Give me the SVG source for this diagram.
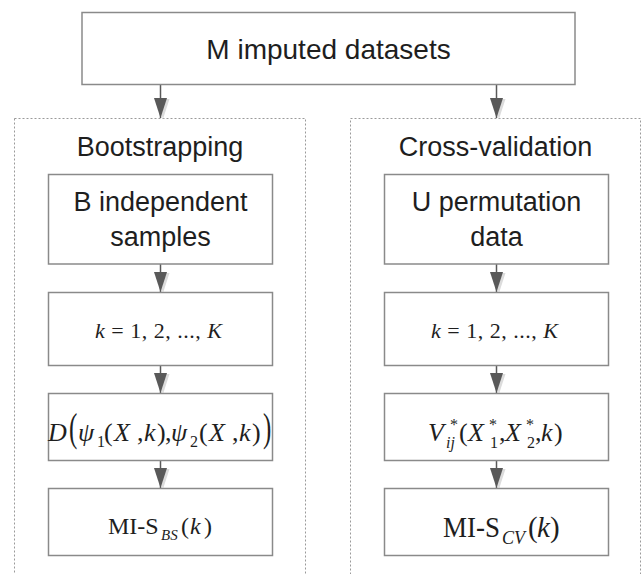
<svg xmlns="http://www.w3.org/2000/svg" width="642" height="574" viewBox="0 0 642 574">
<style>
.box{fill:#fff;stroke:#8a8a8a;stroke-width:1.5}
.grp{fill:none;stroke:#9a9a9a;stroke-width:1;stroke-dasharray:2,2}
.sans{font-family:"Liberation Sans",Arial,sans-serif;fill:#1e1e1e}
.serif{font-family:"Liberation Serif","Times New Roman",serif;fill:#1e1e1e}
.it{font-style:italic}
.sub{font-size:16px}
.conn{stroke:#595959;stroke-width:1.5;fill:none;marker-end:url(#ah)}
</style>
<defs>
<marker id="ah" markerUnits="userSpaceOnUse" markerWidth="22" markerHeight="16" refX="20" refY="6.5" orient="auto" overflow="visible">
<path d="M1,-2.5 L21,4 L1,10.5 z" fill="#dcdcdc"/>
<path d="M0,0 L20,6.5 L0,13 z" fill="#595959"/>
</marker>
</defs>
<rect width="642" height="574" fill="#fff"/>

<g id="grp-bootstrap">
<rect class="grp" x="14.5" y="118.5" width="291" height="470"/>
<text class="sans" x="160" y="156" font-size="27" text-anchor="middle">Bootstrapping</text>
</g>
<g id="grp-crossval">
<rect class="grp" x="350.5" y="118.5" width="290" height="470"/>
<text class="sans" x="495.5" y="156" font-size="27" text-anchor="middle">Cross-validation</text>
</g>

<g id="connectors">
<line class="conn" x1="160.5" y1="84" x2="160.5" y2="118"/>
<line class="conn" x1="496.5" y1="84" x2="496.5" y2="118"/>
<line class="conn" x1="160.5" y1="264" x2="160.5" y2="292"/>
<line class="conn" x1="160.5" y1="365" x2="160.5" y2="393"/>
<line class="conn" x1="160.5" y1="460" x2="160.5" y2="488"/>
<line class="conn" x1="496.5" y1="264" x2="496.5" y2="292"/>
<line class="conn" x1="496.5" y1="365" x2="496.5" y2="393"/>
<line class="conn" x1="496.5" y1="460" x2="496.5" y2="488"/>
</g>

<g id="n-top">
<rect class="box" x="82" y="12.5" width="493" height="72"/>
<text class="sans" x="328.5" y="59" font-size="28" text-anchor="middle">M imputed datasets</text>
</g>

<g id="n-b-samples">
<rect class="box" x="48.5" y="174.5" width="224" height="89.5"/>
<text class="sans" x="160.5" y="211" font-size="27" text-anchor="middle">B independent</text>
<text class="sans" x="160.5" y="246" font-size="27" text-anchor="middle">samples</text>
</g>
<g id="n-b-k">
<rect class="box" x="48.5" y="292.5" width="224" height="73"/>
<text class="serif" x="95" y="338" font-size="22" textLength="127" lengthAdjust="spacing"><tspan class="it">k</tspan> = 1, 2, ..., <tspan class="it">K</tspan></text>
</g>
<g id="n-b-d">
<rect class="box" x="48.5" y="393.5" width="224" height="67"/>
<text class="serif" font-size="26" y="441"><tspan class="it" x="48">D</tspan><tspan class="it" x="78">ψ</tspan><tspan class="sub" x="97" y="447">1</tspan><tspan x="104" y="441">(</tspan><tspan class="it" x="114">X</tspan><tspan x="137">,</tspan><tspan class="it" x="144">k</tspan><tspan x="157">)</tspan><tspan x="165">,</tspan><tspan class="it" x="171">ψ</tspan><tspan class="sub" x="190" y="447">2</tspan><tspan x="199" y="441">(</tspan><tspan class="it" x="209">X</tspan><tspan x="232">,</tspan><tspan class="it" x="239">k</tspan><tspan x="252">)</tspan></text>
<text class="serif" font-size="25" transform="translate(69,441) scale(1,1.6)">(</text>
<text class="serif" font-size="25" transform="translate(263,441) scale(1,1.6)">)</text>
</g>
<g id="n-b-mi">
<rect class="box" x="48.5" y="488.5" width="224" height="67"/>
<text class="serif" font-size="24" y="534"><tspan x="108">MI-S</tspan><tspan class="it" x="161" y="540" font-size="15">BS</tspan><tspan x="181" y="534">(</tspan><tspan class="it" x="190">k</tspan><tspan x="204">)</tspan></text>
</g>

<g id="n-u-data">
<rect class="box" x="384.5" y="174.5" width="224" height="89.5"/>
<text class="sans" x="496.5" y="211" font-size="27" text-anchor="middle">U permutation</text>
<text class="sans" x="496.5" y="246" font-size="27" text-anchor="middle">data</text>
</g>
<g id="n-u-k">
<rect class="box" x="384.5" y="292.5" width="224" height="73"/>
<text class="serif" x="431" y="338" font-size="22" textLength="127" lengthAdjust="spacing"><tspan class="it">k</tspan> = 1, 2, ..., <tspan class="it">K</tspan></text>
</g>
<g id="n-u-v">
<rect class="box" x="384.5" y="393.5" width="224" height="67"/>
<text class="serif" font-size="26" y="441"><tspan class="it" x="428">V</tspan><tspan class="sub" x="450" y="430">*</tspan><tspan class="sub it" x="446" y="448">ij</tspan><tspan x="459" y="441">(</tspan><tspan class="it" x="468">X</tspan><tspan class="sub" x="489" y="430">*</tspan><tspan class="sub" x="490" y="448">1</tspan><tspan x="499" y="441">,</tspan><tspan class="it" x="505">X</tspan><tspan class="sub" x="526" y="430">*</tspan><tspan class="sub" x="527" y="448">2</tspan><tspan x="535" y="441">,</tspan><tspan class="it" x="541">k</tspan><tspan x="554">)</tspan></text>
</g>
<g id="n-u-mi">
<rect class="box" x="384.5" y="488.5" width="224" height="67"/>
<text class="serif" font-size="29" y="537"><tspan x="443" textLength="57" lengthAdjust="spacingAndGlyphs">MI-S</tspan><tspan class="it" x="502" y="544" font-size="18">CV</tspan><tspan x="528" y="537">(</tspan><tspan class="it" x="537">k</tspan><tspan x="550">)</tspan></text>
</g>
</svg>
